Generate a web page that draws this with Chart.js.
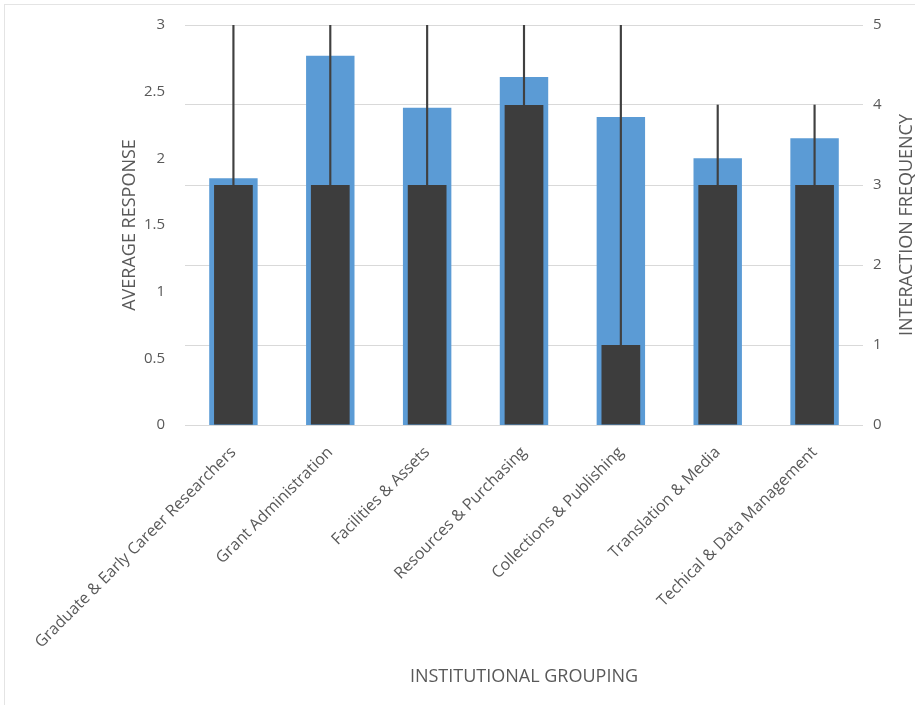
<!DOCTYPE html>
<html>
<head>
<meta charset="utf-8">
<title>Institutional grouping</title>
<script src="https://cdn.jsdelivr.net/npm/chart.js@4.4.1/dist/chart.umd.min.js"></script>
<style>
  html, body { margin: 0; padding: 0; background: #fff; }
  #wrap { position: relative; width: 915px; height: 705px; overflow: hidden; }
  #frame {
    position: absolute; left: 4px; top: 4px; right: -10px; bottom: -10px;
    border: 1px solid #e4e4e4; pointer-events: none;
  }
</style>
</head>
<body>
<div id="wrap">
  <canvas id="chart" width="915" height="705"></canvas>
  <div id="frame"></div>
</div>
<script>
const groupings = [
  'Graduate & Early Career Researchers',
  'Grant Administration',
  'Facilities & Assets',
  'Resources & Purchasing',
  'Collections & Publishing',
  'Translation & Media',
  'Techical & Data Management',
];
// left axis
const avgResponse = [1.85, 2.77, 2.38, 2.61, 2.31, 2.0, 2.15];
// right axis
const interaction = [3, 3, 3, 4, 1, 3, 3];
const interactionMax = [5, 5, 5, 5, 5, 4, 4];

const leftTicks = [0, 0.5, 1, 1.5, 2, 2.5, 3];
const rightTicks = [0, 1, 2, 3, 4, 5];

const TEXT = '#595959';
const FAMILY = "'Open Sans', sans-serif";
const TICK_FONT = {family: FAMILY, size: 15};
const CAT_FONT = {family: FAMILY, size: 16};
const TITLE_FONT = {family: FAMILY, size: 18};

// range line from the frequency up to its max
const ranges = interaction.map((v, i) => [v, interactionMax[i]]);

// Chart.js puts a right-hand title top-to-bottom, this one reads upwards
const rightTitle = {
  id: 'rightTitle',
  afterDraw(chart, args, opts) {
    const {ctx, chartArea} = chart;
    const scale = chart.scales.y2;
    ctx.save();
    ctx.translate(scale.right - 8, (chartArea.top + chartArea.bottom) / 2);
    ctx.rotate(-Math.PI / 2);
    ctx.font = `${TITLE_FONT.size}px ${FAMILY}`;
    ctx.fillStyle = TEXT;
    ctx.textAlign = 'center';
    ctx.textBaseline = 'middle';
    ctx.fillText(opts.text, 0, 0);
    ctx.restore();
  },
};

new Chart(document.getElementById('chart'), {
  type: 'bar',
  data: {
    labels: groupings,
    datasets: [
      {
        label: 'Range',
        data: ranges,
        yAxisID: 'y2',
        backgroundColor: '#404040',
        barThickness: 1.5,
        order: 0,
      },
      {
        label: 'Interaction frequency',
        data: interaction,
        yAxisID: 'y2',
        backgroundColor: '#3d3d3d',
        barPercentage: 0.4,
        categoryPercentage: 1,
        order: 1,
      },
      {
        label: 'Average response',
        data: avgResponse,
        yAxisID: 'y',
        backgroundColor: '#5b9bd5',
        barPercentage: 0.5,
        categoryPercentage: 1,
        order: 2,
      },
    ],
  },
  options: {
    responsive: false,
    animation: false,
    devicePixelRatio: 1,
    layout: {padding: {left: 115, top: 25, right: 0, bottom: 13}},
    plugins: {
      legend: {display: false},
      tooltip: {enabled: false},
      rightTitle: {text: 'INTERACTION FREQUENCY'},
    },
    datasets: {bar: {grouped: false}},
    scales: {
      x: {
        grid: {display: false},
        border: {display: false},
        ticks: {
          color: TEXT,
          font: CAT_FONT,
          minRotation: 45,
          maxRotation: 45,
          autoSkip: false,
          padding: 10,
        },
        title: {display: true, text: 'INSTITUTIONAL GROUPING', color: TEXT, font: TITLE_FONT},
        afterFit: (s) => { s.height = 267; },
      },
      y: {
        position: 'left',
        min: 0,
        max: 3,
        grid: {display: false},
        border: {display: false},
        afterBuildTicks: (s) => { s.ticks = leftTicks.map((v) => ({value: v})); },
        ticks: {color: TEXT, font: TICK_FONT, padding: 12, callback: (v) => String(v)},
        title: {display: true, text: 'AVERAGE RESPONSE', color: TEXT, font: TITLE_FONT},
        afterFit: (s) => { s.width = 70; },
      },
      y2: {
        position: 'right',
        min: 0,
        max: 5,
        grid: {color: '#d9d9d9', drawTicks: false},
        border: {display: false},
        afterBuildTicks: (s) => { s.ticks = rightTicks.map((v) => ({value: v})); },
        ticks: {color: TEXT, font: TICK_FONT, padding: 10},
        afterFit: (s) => { s.width = 52; },
      },
    },
  },
  plugins: [rightTitle],
});
</script>
</body>
</html>
